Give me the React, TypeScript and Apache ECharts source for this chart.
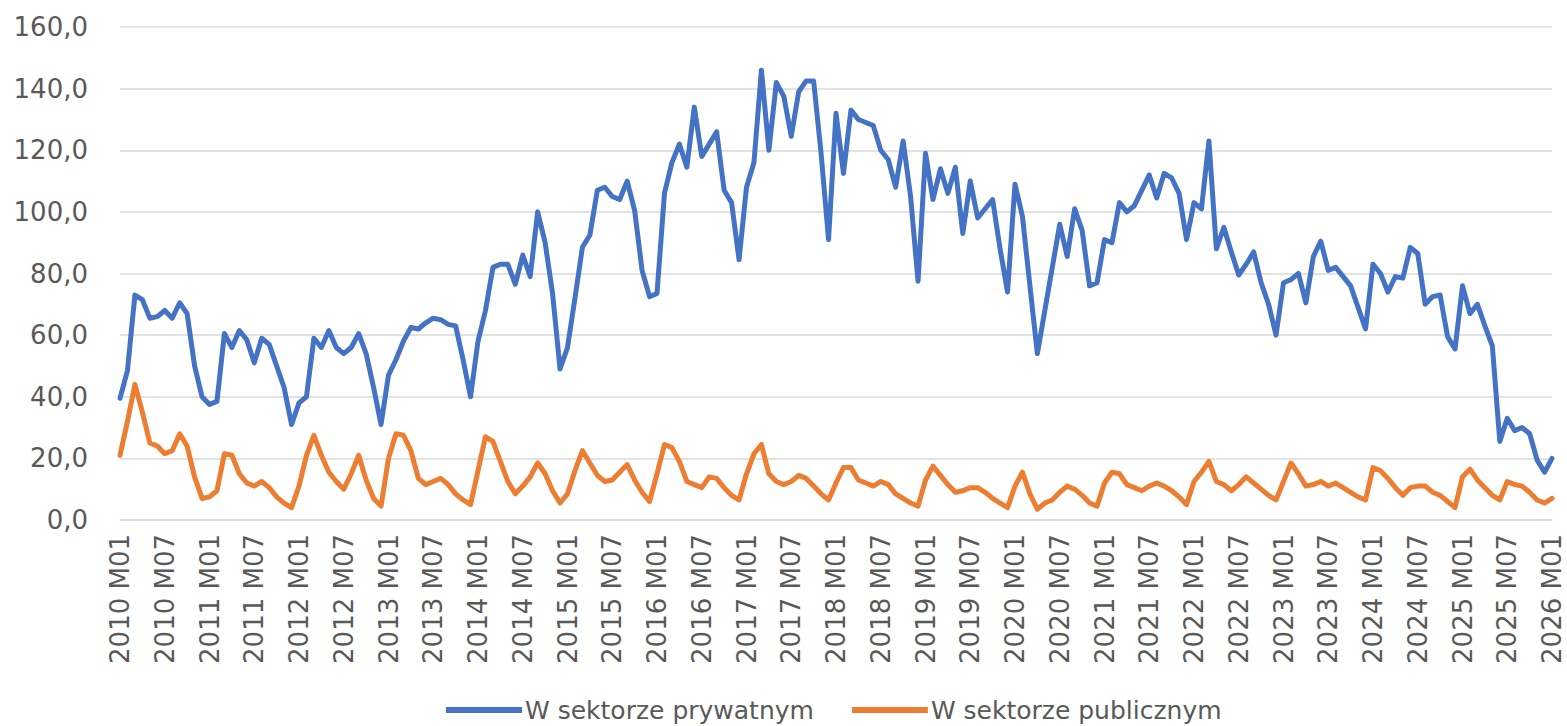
import React, { useEffect, useRef } from "react";
import * as echarts from "echarts";

// Monthly categories 2010 M01 .. 2026 M01
const years = [2010, 2011, 2012, 2013, 2014, 2015, 2016, 2017, 2018, 2019, 2020, 2021, 2022, 2023, 2024, 2025, 2026];
const months = ["01", "02", "03", "04", "05", "06", "07", "08", "09", "10", "11", "12"];
const categories: string[] = [];
years.forEach((y) => months.forEach((m) => categories.push(`${y} M${m}`)));
categories.splice(193);

const seriesNames = ["W sektorze prywatnym", "W sektorze publicznym"];

// W sektorze prywatnym (by year, 12 months each)
const privateValues = [
  39.5, 48.5, 73, 71.5, 65.5, 66, 68, 65.5, 70.5, 67, 50, 40,
  37.5, 38.5, 60.5, 56, 61.5, 58.5, 51, 59, 57, 50, 43, 31,
  38, 40, 59, 56, 61.5, 56, 54, 56, 60.5, 54, 43, 31,
  47, 52, 58, 62.5, 62, 64, 65.5, 65, 63.5, 63, 52, 40,
  58, 68, 82, 83, 83, 76.5, 86, 79, 100, 90, 73.5, 49,
  56, 72, 88.5, 92.5, 107, 108, 105, 104, 110, 100.5, 81, 72.5,
  73.5, 106, 116, 122, 114.5, 134, 118, 122, 126, 107, 103, 84.5,
  108, 116, 146, 120, 142, 137.5, 124.5, 139, 142.5, 142.5, 119, 91,
  132, 112.5, 133, 130, 129, 128, 120, 117, 108, 123, 105, 77.5,
  119, 104, 114, 106, 114.5, 93, 110, 98, 101, 104, 88, 74,
  109, 98.5, 76, 54, 68, 82, 96, 85.5, 101, 94, 76, 77,
  91, 90, 103, 100, 102, 107, 112, 104.5, 112.5, 111, 106, 91,
  103, 101, 123, 88, 95, 87, 79.5, 83, 87, 77, 70, 60,
  77, 78, 80, 70.5, 85.5, 90.5, 81, 82, 79, 76, 69, 62,
  83, 80, 74, 79, 78.5, 88.5, 86.5, 70, 72.5, 73, 59.5, 55.5,
  76, 67, 70, 63, 56.5, 25.5, 33, 29, 30, 28, 19.5, 15.5,
  20,
];

// W sektorze publicznym
const publicValues = [
  21, 32, 44, 35, 25, 24, 21.5, 22.5, 28, 24, 14, 7,
  7.5, 9.5, 21.5, 21, 15, 12, 11, 12.5, 10.5, 7.5, 5.5, 4,
  11, 21, 27.5, 21, 15.5, 12.5, 10, 15, 21, 13, 7, 4.5,
  20, 28, 27.5, 22.5, 13.5, 11.5, 12.5, 13.5, 11.5, 8.5, 6.5, 5,
  16, 27, 25.5, 19, 12.5, 8.5, 11, 14, 18.5, 15, 9.5, 5.5,
  8.5, 16, 22.5, 18.5, 14.5, 12.5, 13, 15.5, 18, 13, 9, 6,
  15, 24.5, 23.5, 19, 12.5, 11.5, 10.5, 14, 13.5, 10.5, 8, 6.5,
  15, 21.5, 24.5, 15, 12.5, 11.5, 12.5, 14.5, 13.5, 11, 8.5, 6.5,
  12, 17, 17, 13, 12, 11, 12.5, 11.5, 8.5, 7, 5.5, 4.5,
  13, 17.5, 14.5, 11.5, 9, 9.5, 10.5, 10.5, 9, 7, 5.5, 4,
  11, 15.5, 8.5, 3.5, 5.5, 6.5, 9, 11, 10, 8, 5.5, 4.5,
  12, 15.5, 15, 11.5, 10.5, 9.5, 11, 12, 11, 9.5, 7.5, 5,
  12.5, 15.5, 19, 12.5, 11.5, 9.5, 11.5, 14, 12, 10, 8, 6.5,
  12.5, 18.5, 15, 11, 11.5, 12.5, 11, 12, 10.5, 9, 7.5, 6.5,
  17, 16, 13.5, 10.5, 8, 10.5, 11, 11, 9, 8, 6, 4,
  14, 16.5, 13, 10.5, 8, 6.5, 12.5, 11.5, 11, 9, 6.5, 5.5,
  7,
];

const FONT = "DejaVu Sans";
const TEXT = "#595959";

export default function App() {
  const ref = useRef<HTMLDivElement>(null);
  useEffect(() => {
    if (!ref.current) return;
    const chart = echarts.init(ref.current, null, { renderer: "svg" });
    chart.setOption({
      animation: false,
      backgroundColor: "#ffffff",
      textStyle: { fontFamily: FONT },
      grid: { left: 120, right: 15, top: 27, bottom: 206, containLabel: false },
      legend: {
        left: 446,
        top: 697,
        padding: 0,
        icon: "rect",
        itemWidth: 76,
        itemHeight: 6,
        itemGap: 38,
        textStyle: { fontFamily: FONT, fontSize: 25, lineHeight: 26, color: TEXT, padding: [0, 0, 0, -2] },
        data: seriesNames,
      },
      xAxis: {
        type: "category",
        data: categories,
        boundaryGap: false,
        axisLine: { show: true, lineStyle: { color: "#d9d9d9", width: 1.5 } },
        axisTick: { show: false },
        axisLabel: {
          interval: 5,
          rotate: 90,
          margin: 14,
          fontFamily: FONT,
          fontSize: 26,
          color: TEXT,
        },
      },
      yAxis: {
        type: "value",
        min: 0,
        max: 160,
        interval: 20,
        axisLine: { show: false },
        axisTick: { show: false },
        splitLine: { lineStyle: { color: "#d9d9d9", width: 1.5 } },
        axisLabel: {
          margin: 32,
          fontFamily: FONT,
          fontSize: 26,
          color: TEXT,
          formatter: (v: number) => v.toFixed(1).replace(".", ","),
        },
      },
      series: [
        {
          name: seriesNames[0],
          type: "line",
          data: privateValues,
          showSymbol: false,
          lineStyle: { color: "#4472C4", width: 5, join: "round", cap: "round" },
          itemStyle: { color: "#4472C4" },
        },
        {
          name: seriesNames[1],
          type: "line",
          data: publicValues,
          showSymbol: false,
          lineStyle: { color: "#ED7D31", width: 5, join: "round", cap: "round" },
          itemStyle: { color: "#ED7D31" },
        },
      ],
    });
    return () => chart.dispose();
  }, []);
  return (
    <div
      ref={ref}
      style={{ position: "fixed", left: 0, top: 0, width: 1567, height: 726, background: "#fff" }}
    />
  );
}
